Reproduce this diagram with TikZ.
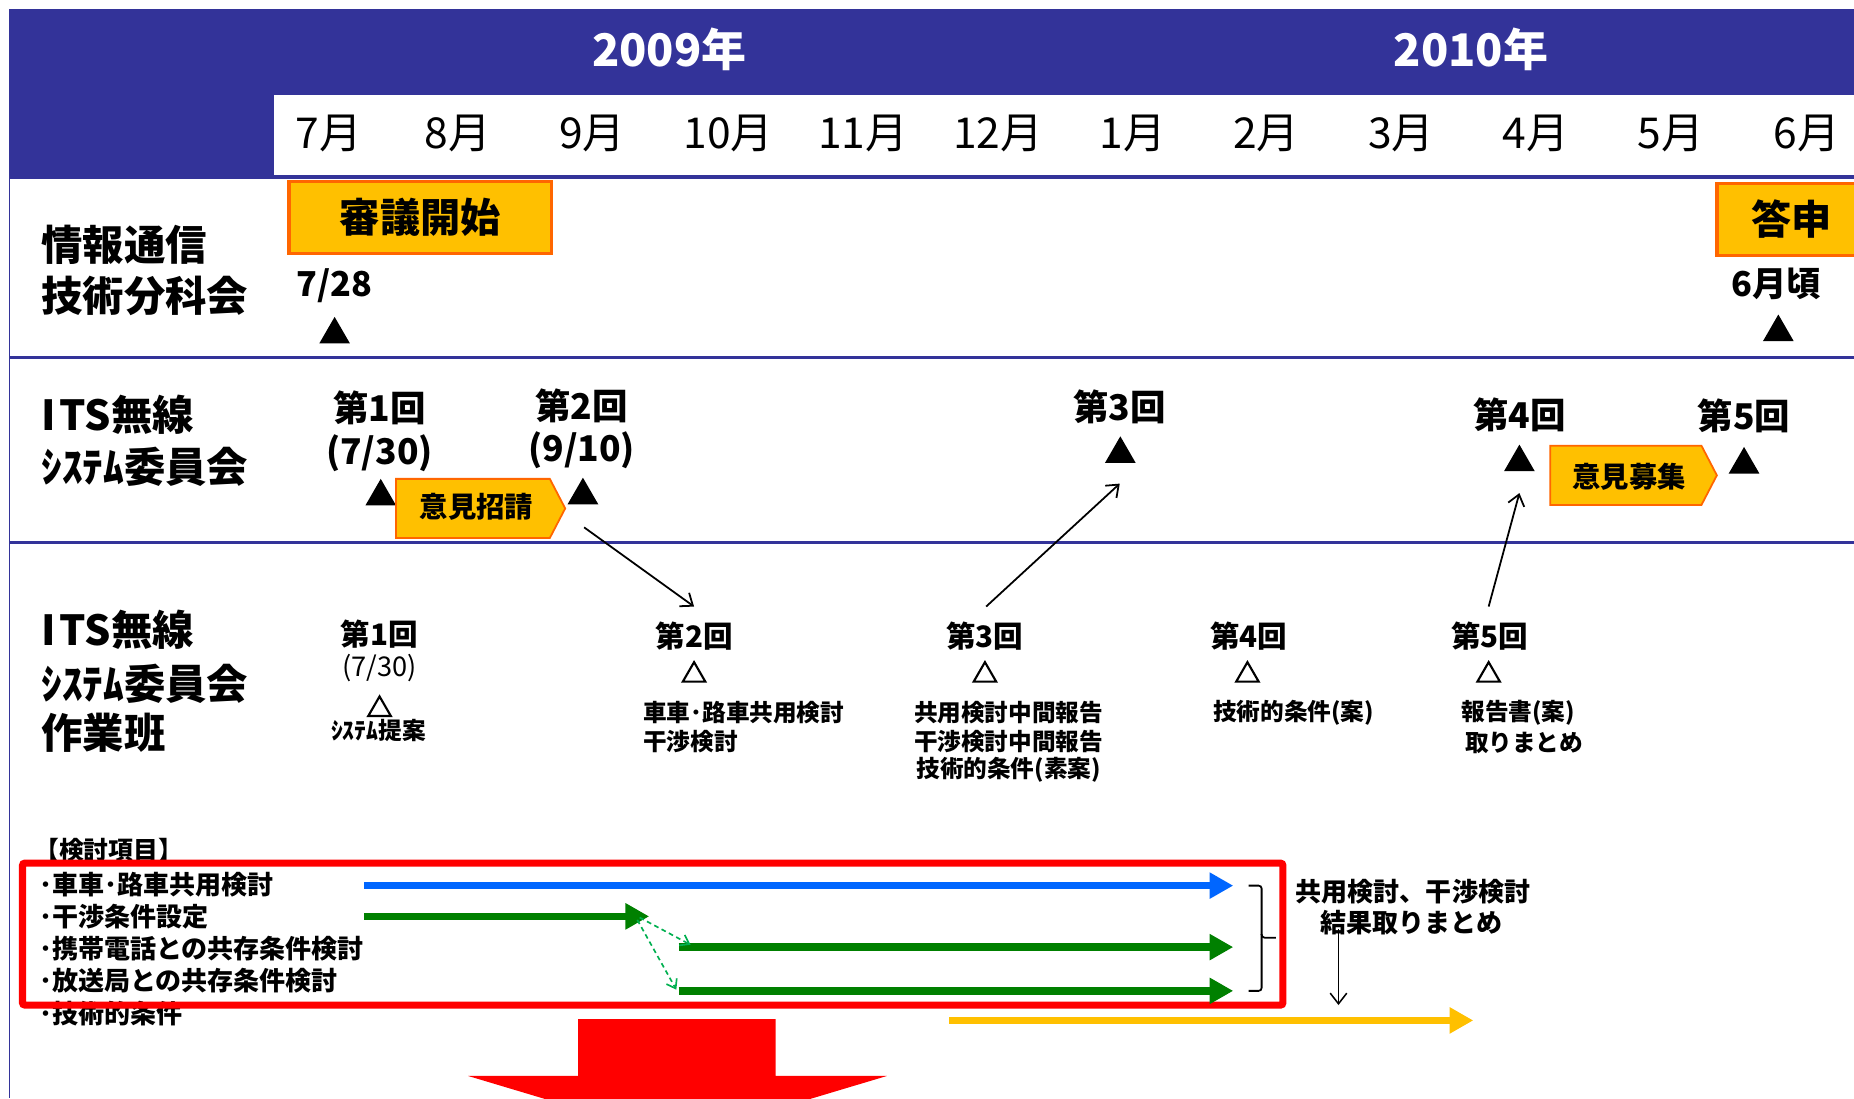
\documentclass[tikz,border=0pt]{standalone}
\usepackage{fontspec}
\setmainfont{Noto Sans CJK JP}
\usetikzlibrary{arrows.meta,shapes.geometric}
\definecolor{hdr}{HTML}{333399}
\definecolor{ofill}{HTML}{FFC000}
\definecolor{oline}{HTML}{FF6600}
\definecolor{barblue}{HTML}{0066FF}
\definecolor{bargreen}{HTML}{008000}
\definecolor{dashgreen}{HTML}{00B050}
\definecolor{baryellow}{HTML}{FFC000}
\newcommand\fsz[1]{\fontsize{#1}{#1}\selectfont}
\begin{document}
\begin{tikzpicture}[x=1pt,y=-1pt,
  every node/.style={inner sep=0pt, outer sep=0pt},
  yr/.style={text=white, font=\bfseries\fsz{38}},
  mon/.style={font=\fsz{36}},
  lab/.style={anchor=west, font=\bfseries\fsz{35}},
  obox/.style={fill=ofill, draw=oline, line width=3pt, font=\bfseries\fsz{34}},
  pent/.style={fill=ofill, draw=oline, line width=1.5pt},
  pentxt/.style={font=\bfseries\fsz{24}},
  mid/.style={font=\bfseries\fsz{30}},
  date/.style={font=\bfseries\fsz{29}},
  wk/.style={font=\bfseries\fsz{25}},
  wkd/.style={font=\fsz{23}},
  desc/.style={font=\bfseries\fsz{20}},
  item/.style={anchor=west, font=\bfseries\fsz{22}},
  tri/.style={regular polygon, regular polygon sides=3, fill=black, minimum size=30pt},
  otri/.style={regular polygon, regular polygon sides=3, draw=black, line width=1.8pt, minimum size=22pt},
  thinarrow/.style={line width=1.5pt, -{Straight Barb[length=9pt,width=14pt]}},
  bar/.style={line width=6.5pt, -{Triangle[length=20pt,width=21pt]}},
  dasharrow/.style={dashgreen, line width=1.4pt, dash pattern=on 4pt off 3pt, -{Straight Barb[length=7pt,width=10pt]}}
]
\useasboundingbox (0,0) rectangle (1568,929);
\clip (0,0) rectangle (1568,929);
\fill[white] (0,0) rectangle (1568,929);

% header
\fill[hdr] (8,8) rectangle (1568,151);
\fill[white] (232,80) rectangle (1568,148);
\node[yr] (y2009) at (566,42) {2009年};
\node[yr] (y2010) at (1244,42) {2010年};
\node[mon] (m7) at (278,113) {7月};
\node[mon] (m8) at (387,113) {8月};
\node[mon] (m9) at (501,113) {9月};
\node[mon] (m10) at (616,113) {10月};
\node[mon] (m11) at (730,113) {11月};
\node[mon] (m12) at (844,113) {12月};
\node[mon] (m1) at (958,113) {1月};
\node[mon] (m2) at (1071,113) {2月};
\node[mon] (m3) at (1185,113) {3月};
\node[mon] (m4) at (1299,113) {4月};
\node[mon] (m5) at (1413,113) {5月};
\node[mon] (m6) at (1528,113) {6月};

% frame lines
\draw[hdr, line width=1.5pt] (8,150) -- (8,929);
\draw[hdr, line width=2.5pt] (8,302) -- (1568,302);
\draw[hdr, line width=2.5pt] (8,459) -- (1568,459);

% row 1
\node[lab] (r1a) at (35,207) {情報通信};
\node[lab] (r1b) at (35,250) {技術分科会};
\node[obox, minimum width=222pt, minimum height=61pt] (shingi) at (355.5,184) {審議開始};
\node[obox, minimum width=126pt, minimum height=61pt] (toushin) at (1515,185.5) {答申};
\node[date] (d728) at (283,242) {7/28};
\node[tri] (t728) at (283,283) {};
\node[date] (d6) at (1502,240) {6月頃};
\node[tri] (t6) at (1504,281) {};

% row 2
\node[lab] (r2a) at (35,351) {I\kern3pt TS無線};
\node[lab] (r2b) at (35,395) {ｼｽﾃﾑ委員会};
\node[mid] (c1) at (321,345) {第1回};
\node[mid] (c1d) at (321,383) {(7/30)};
\node[tri] (c1t) at (322,420) {};
\draw[pent] (335,405) -- (465,405) -- (478,430) -- (465,455) -- (335,455) -- cycle;
\node[pentxt] (ik1) at (403,429) {意見招請};
\node[mid] (c2) at (492,343) {第2回};
\node[mid] (c2d) at (492,381) {(9/10)};
\node[tri] (c2t) at (493,419) {};
\node[mid] (c3) at (947,344) {第3回};
\node[tri] (c3t) at (947.5,384) {};
\node[mid] (c4) at (1285,351) {第4回};
\node[tri] (c4t) at (1285,391) {};
\draw[pent] (1311,377) -- (1439,377) -- (1452,402) -- (1439,427) -- (1311,427) -- cycle;
\node[pentxt] (ik2) at (1378,403) {意見募集};
\node[mid] (c5) at (1475,352) {第5回};
\node[tri] (c5t) at (1475,393) {};

% row 3
\node[lab] (r3a) at (35,533) {I\kern3pt TS無線};
\node[lab] (r3b) at (35,578) {ｼｽﾃﾑ委員会};
\node[lab] (r3c) at (35,620) {作業班};
\node[wk] (w1) at (321,536) {第1回};
\node[wkd] (w1d) at (321,565) {(7/30)};
\node[otri] (w1t) at (321,600) {};
\node[desc] (w1x) at (320,618) {ｼｽﾃﾑ提案};
\node[wk] (w2) at (587,538) {第2回};
\node[otri] (w2t) at (587,571) {};
\node[desc, anchor=west] (w2x1) at (544,603) {車車･路車共用検討};
\node[desc, anchor=west] (w2x2) at (544,627) {干渉検討};
\node[wk] (w3) at (833,538) {第3回};
\node[otri] (w3t) at (833,571) {};
\node[desc] (w3x1) at (853,603) {共用検討中間報告};
\node[desc] (w3x2) at (853,627) {干渉検討中間報告};
\node[desc] (w3x3) at (853,651) {技術的条件(素案)};
\node[wk] (w4) at (1056,538) {第4回};
\node[otri] (w4t) at (1055,571) {};
\node[desc] (w4x) at (1094,603) {技術的条件(案)};
\node[wk] (w5) at (1260,538) {第5回};
\node[otri] (w5t) at (1259,571) {};
\node[desc, anchor=west] (w5x1) at (1236,603) {報告書(案)};
\node[desc, anchor=west] (w5x2) at (1239,628) {取りまとめ};

% connectors between committee and working group
\coordinate (a1s) at (494,446); \coordinate (a1e) at (587,513);
\coordinate (a2s) at (834,513); \coordinate (a2e) at (947,409);
\coordinate (a3s) at (1259,513); \coordinate (a3e) at (1285,417);
\draw[thinarrow] (a1s) -- (a1e);
\draw[thinarrow] (a2s) -- (a2e);
\draw[thinarrow] (a3s) -- (a3e);

% study items
\node[anchor=west, font=\bfseries\fsz{21}] (hd) at (29,719) {【検討項目】};
\node[item] (i1) at (33,748.5) {･車車･路車共用検討};
\node[item] (i2) at (33,775) {･干渉条件設定};
\node[item] (i3) at (33,802) {･携帯電話との共存条件検討};
\node[item] (i4) at (33,829) {･放送局との共存条件検討};
\node[item] (i5) at (33,857) {･技術的条件};

\draw[red, line width=6pt, rounded corners=2pt] (19,730) rectangle (1085,850);

\coordinate (b1s) at (308,749); \coordinate (b1e) at (1043,749);
\coordinate (g1s) at (308,775); \coordinate (g1e) at (549,775);
\coordinate (g2s) at (574,801); \coordinate (g2e) at (1043,801);
\coordinate (g3s) at (574,838); \coordinate (g3e) at (1043,838);
\coordinate (ys) at (803,863); \coordinate (ye) at (1246,863);
\draw[bar, barblue] (b1s) -- (b1e);
\draw[bar, bargreen] (g1s) -- (g1e);
\draw[bar, bargreen] (g2s) -- (g2e);
\draw[bar, bargreen] (g3s) -- (g3e);
\draw[bar, baryellow] (ys) -- (ye);
\coordinate (d1s) at (541,776); \coordinate (d1e) at (584,799);
\coordinate (d2s) at (539,778); \coordinate (d2e) at (572,837);
\draw[dasharrow] (d1s) -- (d1e);
\draw[dasharrow] (d2s) -- (d2e);

% brace
\draw[line width=1.5pt, rounded corners=2.5pt] (1056,749) -- (1067,749) -- (1067,793) -- (1079,793);
\draw[line width=1.5pt, rounded corners=2.5pt] (1067,790) -- (1067,838) -- (1056,838);

\node[font=\bfseries\fsz{22}] (res1) at (1195,754) {共用検討、干渉検討};
\node[font=\bfseries\fsz{22}] (res2) at (1194,780) {結果取りまとめ};
\coordinate (dns) at (1132,786); \coordinate (dne) at (1132,850);
\draw[thinarrow, line width=1.3pt] (dns) -- (dne);

% big red arrow
\fill[red] (489,862) -- (656,862) -- (656,910) -- (750,910) -- (573,963) -- (396,910) -- (489,910) -- cycle;
\end{tikzpicture}
\end{document}
